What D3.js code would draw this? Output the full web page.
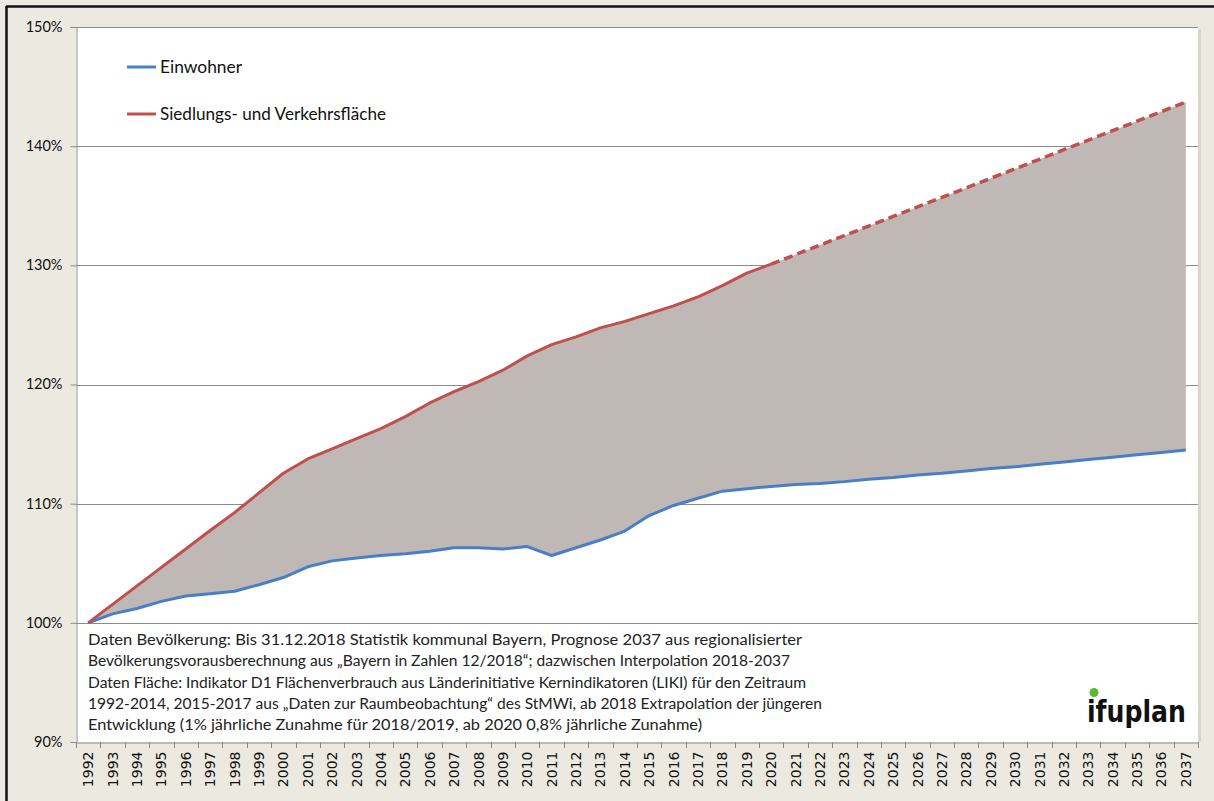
<!DOCTYPE html>
<html>
<head>
<meta charset="utf-8">
<script src="https://cdn.jsdelivr.net/npm/d3@7"></script>
<style>
  html, body { margin: 0; padding: 0; background: #ECE9E0; }
  svg { display: block; }
</style>
</head>
<body>
<svg id="chart" width="1214" height="801"></svg>
<script>
const years = ["1992","1993","1994","1995","1996","1997","1998","1999","2000","2001","2002","2003","2004","2005","2006","2007","2008","2009","2010","2011","2012","2013","2014","2015","2016","2017","2018","2019","2020","2021","2022","2023","2024","2025","2026","2027","2028","2029","2030","2031","2032","2033","2034","2035","2036","2037"];
const einwohner = [100.0,100.75,101.2,101.8,102.25,102.45,102.65,103.2,103.8,104.7,105.2,105.45,105.65,105.8,106.0,106.3,106.3,106.2,106.4,105.65,106.3,106.95,107.7,109.0,109.85,110.45,111.05,111.25,111.45,111.6,111.7,111.85,112.05,112.2,112.4,112.55,112.75,112.95,113.1,113.3,113.5,113.7,113.9,114.1,114.3,114.5];
const flaeche = [100.0,101.55,103.1,104.65,106.2,107.75,109.25,110.9,112.55,113.75,114.6,115.45,116.3,117.3,118.45,119.4,120.25,121.2,122.4,123.35,124.0,124.75,125.3,125.95,126.6,127.35,128.3,129.35,130.1,130.9,131.7,132.5,133.3,134.1,134.9,135.7,136.5,137.3,138.1,138.9,139.7,140.5,141.3,142.1,142.9,143.7];
const lastObservedYear = "2020";
const yTicks = [90,100,110,120,130,140,150];
const seriesNames = ["Einwohner","Siedlungs- und Verkehrsfläche"];
const seriesColors = ["#4A7EC6","#C0504D"];
const legendWidths = [82, 226];
const noteLines = [
  "Daten Bevölkerung: Bis 31.12.2018 Statistik kommunal Bayern, Prognose 2037 aus regionalisierter",
  "Bevölkerungsvorausberechnung aus „Bayern in Zahlen 12/2018“; dazwischen Interpolation 2018-2037",
  "Daten Fläche: Indikator D1 Flächenverbrauch aus Länderinitiative Kernindikatoren (LIKI) für den Zeitraum",
  "1992-2014, 2015-2017 aus „Daten zur Raumbeobachtung“ des StMWi, ab 2018 Extrapolation der jüngeren",
  "Entwicklung (1% jährliche Zunahme für 2018/2019, ab 2020 0,8% jährliche Zunahme)"
];
const noteWidths = [714, 702, 718, 734, 614];
const logoText = "ifuplan";

const svg = d3.select("#chart");
const W = 1214, H = 801;
const plot = {left: 76, right: 1198, top: 27, bottom: 742};

// outer frame
svg.append("rect").attr("x", 0).attr("y", 0).attr("width", W).attr("height", H).attr("fill", "#ECE9E0");
svg.append("line").attr("x1", 6).attr("x2", W).attr("y1", 6.5).attr("y2", 6.5).attr("stroke", "#111").attr("stroke-width", 2.5);
svg.append("line").attr("x1", 6.5).attr("x2", 6.5).attr("y1", 6).attr("y2", H).attr("stroke", "#111").attr("stroke-width", 2.5);

// plot area
svg.append("rect").attr("x", plot.right).attr("y", plot.top + 2).attr("width", 3).attr("height", plot.bottom - plot.top - 2).attr("fill", "#D9D6CE");
svg.append("rect").attr("x", plot.left).attr("y", plot.top).attr("width", plot.right - plot.left).attr("height", plot.bottom - plot.top).attr("fill", "#fff");

const x = d3.scaleBand().domain(years).range([plot.left, plot.right]).padding(0);
const xc = d => x(d) + x.bandwidth() / 2;
const y = d3.scaleLinear().domain([90, 150]).range([plot.bottom, plot.top]);

// gridlines
svg.append("g").selectAll("line").data(yTicks.filter(v => v > 90)).join("line")
  .attr("x1", plot.left).attr("x2", plot.right)
  .attr("y1", d => Math.round(y(d)) + 0.5).attr("y2", d => Math.round(y(d)) + 0.5)
  .attr("stroke", "#8C8C8C").attr("stroke-width", 1);

// y axis
const yAxis = svg.append("g").attr("transform", `translate(${plot.left + 0.5},0)`)
  .call(d3.axisLeft(y).tickValues(yTicks).tickFormat(d => d + "%").tickSize(6).tickPadding(8));
yAxis.select(".domain").attr("stroke", "#8C8C8C");
yAxis.selectAll(".tick line").attr("stroke", "#8C8C8C");
yAxis.selectAll("text").attr("font-family", "Lato, 'Open Sans', sans-serif").attr("font-size", 14.5).attr("fill", "#111").attr("dy", "0.3em");

// x axis
const xAxis = svg.append("g").attr("transform", `translate(0,${plot.bottom + 0.5})`)
  .call(d3.axisBottom(x).tickSize(0).tickPadding(0));
xAxis.select(".domain").attr("stroke", "#8C8C8C");
xAxis.selectAll(".tick text")
  .attr("font-family", "'DejaVu Sans', Verdana, sans-serif").attr("font-size", 14).attr("fill", "#111")
  .attr("transform", "rotate(-90)").attr("text-anchor", "end")
  .attr("x", -9).attr("y", 0).attr("dy", "0.36em");
// tick marks at band boundaries
svg.append("g").selectAll("line").data(years.concat(["end"])).join("line")
  .attr("x1", (d, i) => Math.round(plot.left + i * x.bandwidth()) + 0.5)
  .attr("x2", (d, i) => Math.round(plot.left + i * x.bandwidth()) + 0.5)
  .attr("y1", plot.bottom).attr("y2", plot.bottom + 6)
  .attr("stroke", "#8C8C8C");

// area between lines
const data = years.map((yr, i) => ({yr, e: einwohner[i], f: flaeche[i]}));
svg.append("path").datum(data)
  .attr("d", d3.area().x(d => xc(d.yr)).y0(d => y(d.e)).y1(d => y(d.f)))
  .attr("fill", "#C0B8B5");

// Einwohner line
svg.append("path").datum(data)
  .attr("d", d3.line().x(d => xc(d.yr)).y(d => y(d.e)))
  .attr("fill", "none").attr("stroke", seriesColors[0]).attr("stroke-width", 3).attr("stroke-linejoin", "round");

// Fläche line: solid (observed) and dashed (extrapolated)
const splitIdx = years.indexOf(lastObservedYear);
svg.append("path").datum(data.slice(0, splitIdx + 1))
  .attr("d", d3.line().x(d => xc(d.yr)).y(d => y(d.f)))
  .attr("fill", "none").attr("stroke", seriesColors[1]).attr("stroke-width", 3).attr("stroke-linejoin", "round");
svg.append("path").datum(data.slice(splitIdx))
  .attr("d", d3.line().x(d => xc(d.yr)).y(d => y(d.f)))
  .attr("fill", "none").attr("stroke", seriesColors[1]).attr("stroke-width", 3.5).attr("stroke-dasharray", "9,5");

// legend
const leg = svg.append("g");
seriesNames.forEach((n, i) => {
  const ly = 67 + i * 47;
  leg.append("line").attr("x1", 127).attr("x2", 156).attr("y1", ly).attr("y2", ly)
    .attr("stroke", seriesColors[i]).attr("stroke-width", 3);
  leg.append("text").attr("x", 160).attr("y", ly + 5.5).text(n)
    .attr("font-family", "Lato, 'Open Sans', sans-serif").attr("font-size", 16.5).attr("fill", "#111")
    .attr("textLength", legendWidths[i]).attr("lengthAdjust", "spacingAndGlyphs");
});

// note text
svg.append("g").selectAll("text").data(noteLines).join("text")
  .attr("x", 88).attr("y", (d, i) => 645 + i * 21.3)
  .attr("font-family", "Lato, 'Open Sans', sans-serif").attr("font-size", 14.5).attr("fill", "#222")
  .attr("textLength", (d, i) => noteWidths[i]).attr("lengthAdjust", "spacingAndGlyphs")
  .text(d => d);

// logo
svg.append("text").attr("x", 1087).attr("y", 722).text(logoText)
  .attr("font-family", "'DejaVu Sans', sans-serif").attr("font-weight", "bold").attr("font-size", 30)
  .attr("fill", "#111").attr("textLength", 99).attr("lengthAdjust", "spacingAndGlyphs");
svg.append("rect").attr("x", 1089).attr("y", 687).attr("width", 12).attr("height", 10).attr("fill", "#fff");
svg.append("circle").attr("cx", 1094).attr("cy", 692.5).attr("r", 4.5).attr("fill", "#5DB83A");
</script>
</body>
</html>
